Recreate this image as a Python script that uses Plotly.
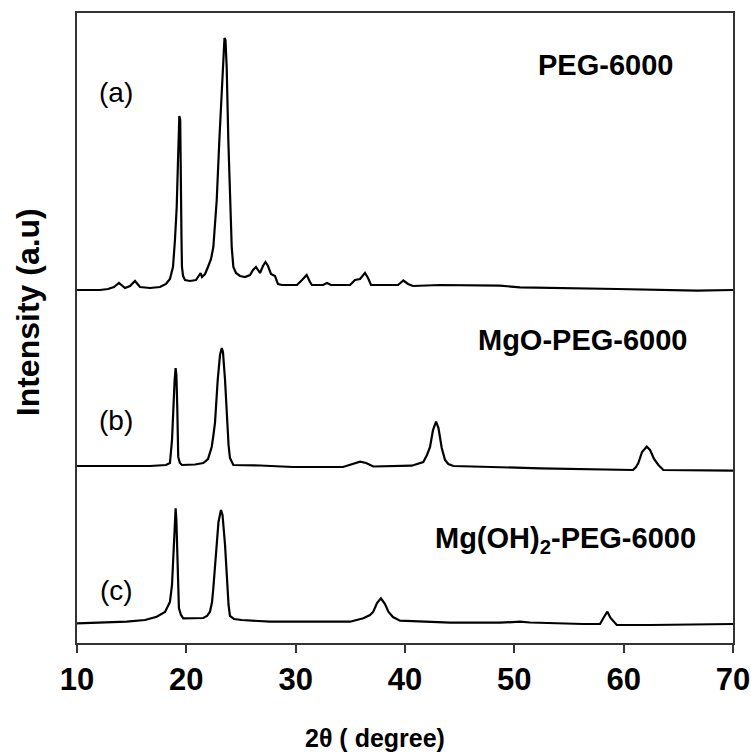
import plotly.graph_objects as go

# ---- Data (2-theta in degrees, intensity in arbitrary stacked units) ----
theta_a = [10.00, 12.10, 12.84, 13.38, 13.84, 14.12, 14.39, 14.85, 15.30, 15.76, 16.68, 17.59, 18.14, 18.50,
           18.78, 18.96, 19.12, 19.24, 19.36, 19.44, 19.49, 19.56, 19.60, 19.70, 19.88, 20.34, 20.88, 21.16,
           21.31, 21.43, 21.71, 21.98, 22.26, 22.47, 22.78, 23.02, 23.33, 23.49, 23.58, 23.69, 23.84, 23.99,
           24.15, 24.30, 24.54, 24.91, 25.37, 25.82, 26.10, 26.37, 26.74, 27.01, 27.24, 27.47, 27.74, 28.11,
           28.38, 28.75, 30.12, 30.58, 31.01, 31.31, 31.49, 32.50, 32.87, 33.23, 34.97, 35.43, 35.70, 35.89,
           36.34, 36.62, 36.89, 39.36, 39.85, 40.28, 40.73, 43.20, 48.69, 50.52, 59.39, 66.71, 70.00]
int_a = [353, 353, 354, 356, 360, 357, 355, 357, 362, 356, 355, 356, 359, 364,
         376, 403, 436, 483, 527, 523, 436, 403, 376, 367, 363, 362, 363, 367,
         370, 366, 369, 376, 384, 396, 443, 503, 576, 605, 603, 576, 503, 443,
         396, 376, 370, 367, 366, 368, 373, 376, 370, 377, 381, 377, 369, 367,
         359, 358, 358, 363, 368, 361, 358, 358, 360, 358, 358, 363, 364, 364,
         370, 365, 358, 358, 362.5, 359, 357, 358, 357.3, 355.7, 354, 352.3, 353]

theta_b = [10.00, 16.68, 18.14, 18.50, 18.69, 18.80, 18.93, 19.02, 19.09, 19.17, 19.21, 19.26, 19.41, 19.60,
           20.79, 21.55, 21.98, 22.32, 22.48, 22.62, 22.87, 23.08, 23.24, 23.35, 23.54, 23.75, 23.86, 23.99,
           24.30, 26.74, 29.76, 34.33, 34.97, 35.89, 36.44, 37.10, 40.61, 41.19, 41.67, 42.01, 42.29, 42.56,
           42.84, 43.06, 43.36, 43.66, 43.96, 44.42, 52.35, 60.85, 61.13, 61.34, 61.68, 62.11, 62.41, 62.78,
           63.18, 63.63, 70.00]
int_b = [177, 177, 178, 180, 203, 236, 263, 275, 268, 236, 203, 186, 180, 178,
         178.5, 180, 184, 196, 208, 220, 263, 288, 295, 291, 263, 220, 198, 185,
         178, 177.5, 176, 176, 178, 181.3, 180, 176.5, 177.3, 179, 181, 188, 196, 213,
         221.3, 215, 195, 183, 179, 177, 174.7, 173, 176, 180, 191, 196.3, 193, 184,
         178, 173, 172.3]

theta_c = [10.00, 14.55, 16.22, 17.29, 18.05, 18.50, 18.69, 18.80, 18.93, 19.02, 19.09, 19.17, 19.23, 19.32,
           19.51, 19.72, 21.55, 21.89, 22.16, 22.35, 22.47, 22.62, 22.78, 22.94, 23.17, 23.31, 23.54, 23.66,
           23.75, 23.86, 23.99, 24.36, 25.06, 27.65, 34.97, 36.19, 36.80, 37.10, 37.44, 37.80, 38.17, 38.48,
           38.90, 39.54, 44.12, 48.69, 50.52, 51.43, 56.31, 57.84, 58.20, 58.51, 58.80, 59.37, 62.41, 70.00]
int_c = [19.7, 21.3, 23, 26.3, 31, 41, 58, 81, 113, 134.7, 123, 81, 53, 35,
         28, 24.7, 25, 27, 31.3, 41, 55, 77, 98, 121, 133, 128, 98, 77,
         55, 38, 27, 24, 23, 21.3, 21.3, 24.7, 28, 31.3, 40, 44.7, 39, 31.3,
         26, 22.3, 20.3, 20.3, 21.3, 20.5, 19, 19, 26, 31.3, 25, 18, 18, 19]

x_ticks = [10, 20, 30, 40, 50, 60, 70]
series_labels = ["(a)", "(b)", "(c)"]
series_names = ["PEG-6000", "MgO-PEG-6000", "Mg(OH)<sub>2</sub>-PEG-6000"]

FONT = "Arial, Liberation Sans"

fig = go.Figure()
for th, it, nm in [(theta_a, int_a, "PEG-6000"), (theta_b, int_b, "MgO-PEG-6000"),
                   (theta_c, int_c, "Mg(OH)2-PEG-6000")]:
    fig.add_trace(go.Scatter(x=th, y=it, mode="lines", name=nm,
                             line=dict(color="black", width=2.2), showlegend=False))

# letter labels
for lab, (xx, yy) in zip(series_labels, [(13.6, 551), (13.6, 223), (13.6, 53)]):
    fig.add_annotation(x=xx, y=yy, text=lab, showarrow=False, xanchor="center", yanchor="middle",
                       font=dict(family=FONT, size=28, color="black"))
# sample names
for nm, (xx, yy) in zip(series_names, [(58.3, 578), (56.3, 303), (54.7, 103)]):
    fig.add_annotation(x=xx, y=yy, text=nm, showarrow=False, xanchor="center", yanchor="middle",
                       font=dict(family=FONT, size=29, color="black", weight="bold"))

# axis titles
fig.add_annotation(xref="paper", yref="paper", x=0.454, y=-0.150, text="2θ ( degree)", showarrow=False,
                   xanchor="center", yanchor="middle",
                   font=dict(family=FONT, size=25, color="black", weight="bold"))
fig.add_annotation(xref="paper", yref="paper", x=-0.0747, y=0.525, text="Intensity (a.u)", showarrow=False,
                   textangle=-90, xanchor="center", yanchor="middle",
                   font=dict(family=FONT, size=32, color="black", weight="bold"))

fig.update_layout(
    width=751, height=753,
    margin=dict(l=77, r=18, t=13, b=110, autoexpand=False),
    paper_bgcolor="white", plot_bgcolor="white",
    xaxis=dict(range=[10, 70], tickvals=x_ticks, ticktext=[str(v) for v in x_ticks],
               showgrid=False, zeroline=False, showline=True, mirror=True, automargin=False,
               linecolor="#333333", linewidth=2, ticks="outside", ticklen=8, tickwidth=2,
               tickcolor="#333333", ticklabeloverflow="allow",
               tickfont=dict(family=FONT, size=31, color="black", weight="bold")),
    yaxis=dict(range=[0, 630], showgrid=False, zeroline=False, showline=True, mirror=True,
               automargin=False,
               linecolor="#333333", linewidth=2, showticklabels=False, ticks=""),
)

fig.write_html("out.html")
